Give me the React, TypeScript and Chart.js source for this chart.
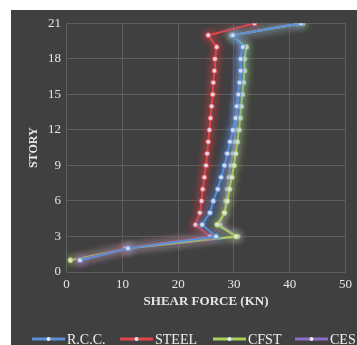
import React, { useEffect, useRef } from "react";
import { Chart, registerables } from "chart.js";

Chart.register(...registerables);

const stories = [1, 2, 3, 4, 5, 6, 7, 8, 9, 10, 11, 12, 13, 14, 15, 16, 17, 18, 19, 20, 21];
const rcc = [2.4, 11.0, 26.8, 24.3, 25.7, 26.3, 27.1, 27.7, 28.3, 28.8, 29.3, 29.8, 30.3, 30.5, 30.8, 31.0, 31.2, 31.2, 31.6, 29.8, 42.0];
const steel = [2.3, 10.5, 25.7, 23.1, 23.9, 24.2, 24.4, 24.7, 25.0, 25.2, 25.4, 25.6, 25.8, 26.0, 26.2, 26.3, 26.5, 26.6, 26.9, 25.4, 33.7];
const cfst = [0.7, 11.0, 30.4, 27.0, 28.3, 28.8, 29.2, 29.6, 30.0, 30.3, 30.6, 30.9, 31.1, 31.3, 31.5, 31.7, 31.9, 31.9, 32.2, 29.6, 42.3];
const ces = [2.5, 11.3, 30.7, 27.5, 28.3, 28.5, 28.8, 29.1, 29.4, 29.8, 30.1, 30.3, 30.5, 30.6, 30.8, 31.1, 31.3, 31.2, 31.5, 29.9, 41.3];

const seriesNames = ["R.C.C.", "STEEL", "CFST", "CES"];
const seriesColors = ["#5b8fd8", "#e0474c", "#a9d05a", "#8f6fcb"];
const xTicks = [0, 10, 20, 30, 40, 50];
const yTicks = [0, 3, 6, 9, 12, 15, 18, 21];

const FONT = "'Liberation Serif', 'Times New Roman', serif";

export default function App() {
  const ref = useRef<HTMLCanvasElement | null>(null);
  useEffect(() => {
    if (!ref.current) return;
    const values = [rcc, steel, cfst, ces];
    const glow = {
      id: "glow",
      beforeDatasetDraw(chart: any, args: any) {
        const ctx = chart.ctx;
        ctx.save();
        ctx.shadowColor = seriesColors[args.index];
        ctx.shadowBlur = 8;
      },
      afterDatasetDraw(chart: any) {
        chart.ctx.restore();
      },
    };
    const legendPlugin = {
      id: "customLegend",
      afterDraw(chart: any) {
        const ctx = chart.ctx;
        ctx.save();
        ctx.font = `14px ${FONT}`;
        ctx.textBaseline = "middle";
        const y = 329;
        const starts = [21, 109, 202, 284];
        seriesNames.forEach((name, i) => {
          const x0 = starts[i];
          ctx.strokeStyle = seriesColors[i];
          ctx.lineWidth = 3;
          ctx.beginPath();
          ctx.moveTo(x0, y);
          ctx.lineTo(x0 + 33, y);
          ctx.stroke();
          ctx.fillStyle = "#e8e8f0";
          ctx.beginPath();
          ctx.arc(x0 + 16.5, y, 2, 0, Math.PI * 2);
          ctx.fill();
          ctx.fillStyle = "#f0f0f0";
          ctx.fillText(name, x0 + 35, y + 1);
        });
        ctx.restore();
      },
    };
    const chart = new Chart(ref.current, {
      type: "line",
      data: {
        datasets: seriesNames.map((name, i) => ({
          label: name,
          data: stories.map((s, k) => ({ x: values[i][k], y: s })),
          borderColor: seriesColors[i],
          backgroundColor: "#e6e6f2",
          pointBackgroundColor: "#e6e6f2",
          pointBorderColor: seriesColors[i],
          pointBorderWidth: 1,
          pointRadius: 2.5,
          borderWidth: 2,
          tension: 0,
          fill: false,
        })),
      },
      options: {
        animation: false,
        responsive: false,
        maintainAspectRatio: false,
        layout: { padding: { top: 12.2, right: 6.5, bottom: 35.8, left: 0 } },
        plugins: {
          legend: { display: false },
          tooltip: { enabled: false },
        },
        scales: {
          x: {
            type: "linear",
            min: 0,
            max: 50,
            afterBuildTicks: (axis: any) => {
              axis.ticks = xTicks.map((v) => ({ value: v }));
            },
            grid: { color: "#5e5e5e", lineWidth: 1, drawTicks: false },
            border: { display: false },
            ticks: { color: "#e6e6e6", font: { family: FONT, size: 13 }, padding: 5 },
            title: {
              display: true,
              text: "SHEAR FORCE (KN)",
              color: "#e6e6e6",
              font: { family: FONT, size: 13, weight: "bold" },
              padding: { top: -4, bottom: 0 },
            },
          },
          y: {
            type: "linear",
            min: 0,
            max: 21,
            afterBuildTicks: (axis: any) => {
              axis.ticks = yTicks.map((v) => ({ value: v }));
            },
            grid: { color: "#5e5e5e", lineWidth: 1, drawTicks: false },
            border: { display: false },
            ticks: { color: "#e6e6e6", font: { family: FONT, size: 13 }, padding: 5.6 },
            title: {
              display: true,
              text: "STORY",
              color: "#e6e6e6",
              font: { family: FONT, size: 12, weight: "bold" },
              padding: { top: 16, bottom: 1 },
            },
          },
        },
      },
      plugins: [glow, legendPlugin],
    });
    return () => chart.destroy();
  }, []);

  return (
    <div style={{ position: "fixed", left: 0, top: 0, width: 357, height: 345, background: "#ffffff", overflow: "hidden" }}>
      <div style={{ position: "absolute", left: 11, top: 10, width: 346, height: 335, background: "#404040" }}>
        <canvas ref={ref} width={346} height={335} style={{ display: "block" }} />
      </div>
    </div>
  );
}
